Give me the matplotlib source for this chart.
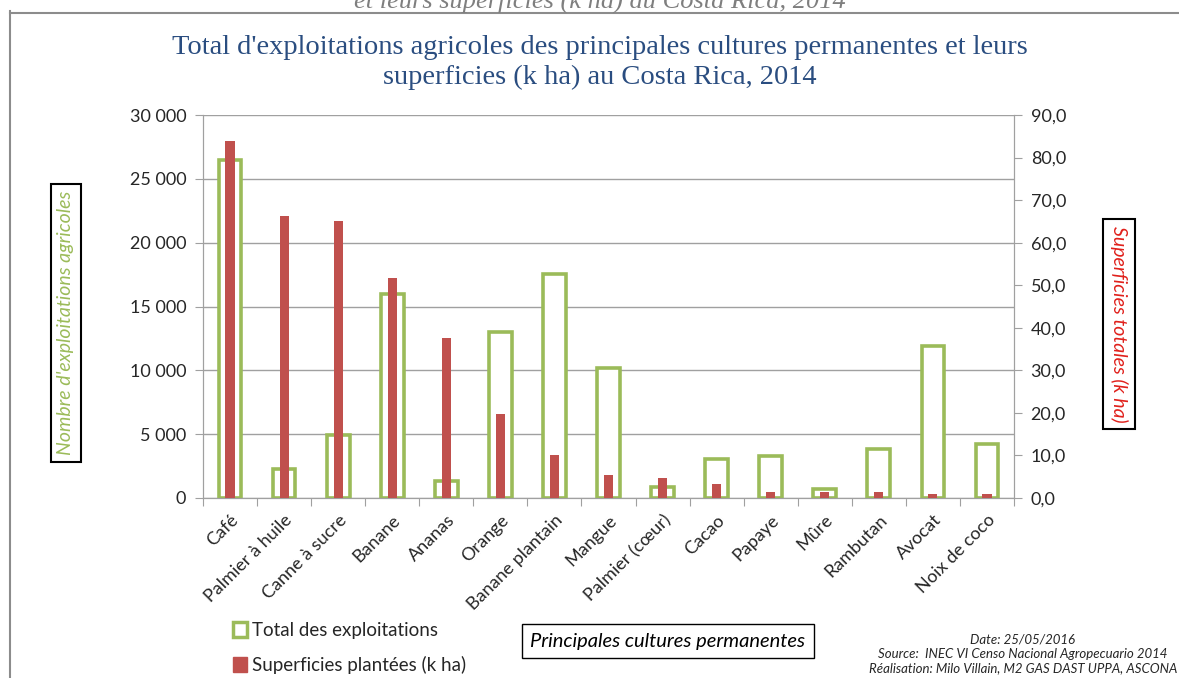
import numpy as np
import matplotlib
matplotlib.use("Agg")
import matplotlib.pyplot as plt
from matplotlib.ticker import FuncFormatter, MultipleLocator
from matplotlib.patches import Patch
from matplotlib.lines import Line2D

# data
cultures = ["Café", "Palmier à huile", "Canne à sucre", "Banane", "Ananas",
            "Orange", "Banane plantain", "Mangue", "Palmier (cœur)", "Cacao",
            "Papaye", "Mûre", "Rambutan", "Avocat", "Noix de coco"]
exploitations = [26450, 2250, 4920, 15950, 1340, 12970, 17510, 10190,
                 870, 3090, 3320, 720, 3820, 11920, 4210]
superficies = [83.9, 66.3, 65.0, 51.7, 37.6, 19.7, 10.0, 5.3,
               4.6, 3.4, 1.3, 1.3, 1.3, 1.0, 1.0]

GREEN = "#9BBB59"
RED = "#C0504D"
GRID = "#a0a0a0"
TXT = "#262626"
plt.rcParams['font.family'] = ['Lato', 'DejaVu Sans']

fig = plt.figure(figsize=(11.79, 6.78), dpi=100)
fig.patch.set_facecolor("white")
ax = fig.add_axes([203/1179, 1-498/678, (1014-203)/1179, (498-115)/678])
ax2 = ax.twinx()

x = np.arange(len(cultures))
ax.bar(x, exploitations, width=0.42, facecolor="white", edgecolor=GREEN,
       linewidth=2.6, zorder=3)
ax2.bar(x, superficies, width=0.17, color=RED, zorder=3)

ax.set_xlim(-0.5, len(cultures) - 0.5)
ax.set_ylim(0, 30000)
ax2.set_ylim(0, 90)
ax.yaxis.set_major_locator(MultipleLocator(5000))
ax2.yaxis.set_major_locator(MultipleLocator(10))
ax.yaxis.set_major_formatter(FuncFormatter(lambda v, p: f"{int(v):,}".replace(",", " ")))
ax2.yaxis.set_major_formatter(FuncFormatter(lambda v, p: f"{v:.1f}".replace(".", ",")))
ax.grid(axis="y", color=GRID, linewidth=1.0, zorder=0)
ax.set_axisbelow(True)

# ticks between categories, labels on the categories
ax.set_xticks(np.arange(len(cultures) + 1) - 0.5, minor=False)
ax.set_xticklabels([])
ax.set_xticks(x, minor=True)
ax.set_xticklabels(cultures, minor=True, rotation=45, ha="right",
                   rotation_mode="anchor", fontsize=13, color=TXT)
ax.tick_params(axis="x", which="minor", length=0, pad=10)
ax.tick_params(axis="x", which="major", length=6, color=GRID, direction="out")
ax.tick_params(axis="y", length=6, color=GRID, labelsize=13, labelcolor=TXT, pad=6)
ax2.tick_params(axis="y", length=6, color=GRID, labelsize=13, labelcolor=TXT, pad=6)

for a in (ax, ax2):
    a.spines["top"].set_visible(False)
    for s in ("left", "right", "bottom"):
        a.spines[s].set_color(GRID)

# frame of the screenshot
fig.add_artist(Line2D([10/1179, 10/1179], [0, 1-11/678], color="#8c8c8c", lw=1.5))
fig.add_artist(Line2D([10/1179, 1], [1-13/678, 1-13/678], color="#8c8c8c", lw=1.5))

# cut-off text at the very top
fig.text(600/1179, 1-1/678, "et leurs superficies (k ha) au Costa Rica, 2014",
         ha="center", va="center", fontsize=19, style="italic", color="#7f7f7f",
         family=["Liberation Serif"])

fig.text(600/1179, 1-47/678,
         "Total d'exploitations agricoles des principales cultures permanentes et leurs",
         ha="center", va="center", fontsize=20.5, color="#2a4d80",
         family=["Liberation Serif"])
fig.text(600/1179, 1-77/678, "superficies (k ha) au Costa Rica, 2014",
         ha="center", va="center", fontsize=20.5, color="#2a4d80",
         family=["Liberation Serif"])

box = dict(boxstyle="square,pad=0.35", facecolor="white", edgecolor="black", linewidth=1.5)
fig.text(66/1179, 1-323/678, "Nombre d'exploitations agricoles", rotation=90,
         ha="center", va="center", fontsize=14, style="italic", color=GREEN, bbox=box)
fig.text(1119/1179, 1-324/678, "Superficies totales (k ha)", rotation=270,
         ha="center", va="center", fontsize=14, style="italic", color="#e0201b", bbox=box)
fig.text(668/1179, 1-641/678, "Principales cultures permanentes",
         ha="center", va="center", fontsize=14.5, style="italic", color="black",
         bbox=dict(boxstyle="square,pad=0.4", facecolor="white", edgecolor="black", linewidth=1))

handles = [Patch(facecolor="white", edgecolor=GREEN, linewidth=2.5),
           Patch(facecolor=RED, edgecolor=RED)]
fig.legend(handles, ["Total des exploitations", "Superficies plantées (k ha)"],
           loc="center left", bbox_to_anchor=(224/1179, 1-648/678), frameon=False,
           fontsize=13.5, labelspacing=0.9, handlelength=0.7, handleheight=0.9,
           handletextpad=0.3, borderpad=0, labelcolor=TXT)

fig.text(1023/1179, 1-654/678,
         "Date: 25/05/2016\nSource:  INEC VI Censo Nacional Agropecuario 2014\n"
         "Réalisation: Milo Villain, M2 GAS DAST UPPA, ASCONA",
         ha="center", va="center", fontsize=9.5, style="italic", color=TXT,
         linespacing=1.25)

fig.savefig("out.png", dpi=100)
